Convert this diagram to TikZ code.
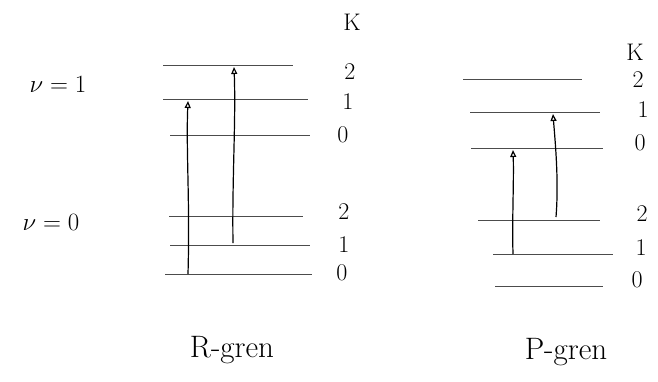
\documentclass[tikz,border=0pt]{standalone}
\usetikzlibrary{arrows.meta}
\begin{document}
\begin{tikzpicture}[x=1pt,y=-1pt,
  level/.style={line width=0.6pt, black!70},
  trans/.style={line width=1.2pt, -{Triangle[open,length=7pt,width=6pt]}},
  lbl/.style={font=\fontsize{25}{28}\selectfont, inner sep=0pt},
  klbl/.style={font=\fontsize{24}{26}\selectfont, inner sep=0pt},
  ttl/.style={font=\fontsize{31}{33}\selectfont, inner sep=0pt}]
\useasboundingbox (0,0) rectangle (658,381);
% left panel levels
\draw[level] (163,65) coordinate (l1a) -- (293,65) coordinate (l1b);
\draw[level] (163,99) coordinate (l2a) -- (308,99) coordinate (l2b);
\draw[level] (170,135) coordinate (l3a) -- (310,135) coordinate (l3b);
\draw[level] (169,216) coordinate (l4a) -- (303,216) coordinate (l4b);
\draw[level] (170,245) coordinate (l5a) -- (310,245) coordinate (l5b);
\draw[level] (165,274) coordinate (l6a) -- (312,274) coordinate (l6b);
% left transitions (R branch)
\coordinate (ra1) at (188,274);
\coordinate (rb1) at (188,101);
\coordinate (ra2) at (233,243);
\coordinate (rb2) at (234,67);
\draw[trans] (ra1) .. controls (190,200) and (186,150) .. (rb1);
\draw[trans] (ra2) .. controls (232,180) and (236,120) .. (rb2);
% left labels
\node[lbl] (nu1) at (58,84) {$\nu=1$};
\node[lbl] (nu0) at (51,222) {$\nu=0$};
\node[klbl] (kL) at (352,22) {K};
\node[klbl] (kL2) at (350,72) {2};
\node[klbl] (kL1) at (348,102) {1};
\node[klbl] (kL0) at (343,135) {0};
\node[klbl] (kL2b) at (344,212) {2};
\node[klbl] (kL1b) at (344,245) {1};
\node[klbl] (kL0b) at (342,273) {0};
% right panel levels
\draw[level] (463,79) coordinate (p1a) -- (582,79) coordinate (p1b);
\draw[level] (470,112) coordinate (p2a) -- (600,112) coordinate (p2b);
\draw[level] (471,148) coordinate (p3a) -- (603,148) coordinate (p3b);
\draw[level] (478,220) coordinate (p4a) -- (600,220) coordinate (p4b);
\draw[level] (493,254) coordinate (p5a) -- (613,254) coordinate (p5b);
\draw[level] (495,286) coordinate (p6a) -- (603,286) coordinate (p6b);
% right transitions (P branch)
\coordinate (pa1) at (513,254);
\coordinate (pb1) at (513,150);
\coordinate (pa2) at (556,217);
\coordinate (pb2) at (553,114);
\draw[trans] (pa1) .. controls (512,220) and (514,180) .. (pb1);
\draw[trans] (pa2) .. controls (559,180) and (555,140) .. (pb2);
% right labels
\node[klbl] (kR) at (635,52) {K};
\node[klbl] (kR2) at (638,80) {2};
\node[klbl] (kR1) at (643,110) {1};
\node[klbl] (kR0) at (640,143) {0};
\node[klbl] (kR2b) at (642,214) {2};
\node[klbl] (kR1b) at (641,248) {1};
\node[klbl] (kR0b) at (637,280) {0};
% titles
\node[ttl] (rtitle) at (232,350) {R-gren};
\node[ttl] (ptitle) at (566,352) {P-gren};
\end{tikzpicture}
\end{document}
